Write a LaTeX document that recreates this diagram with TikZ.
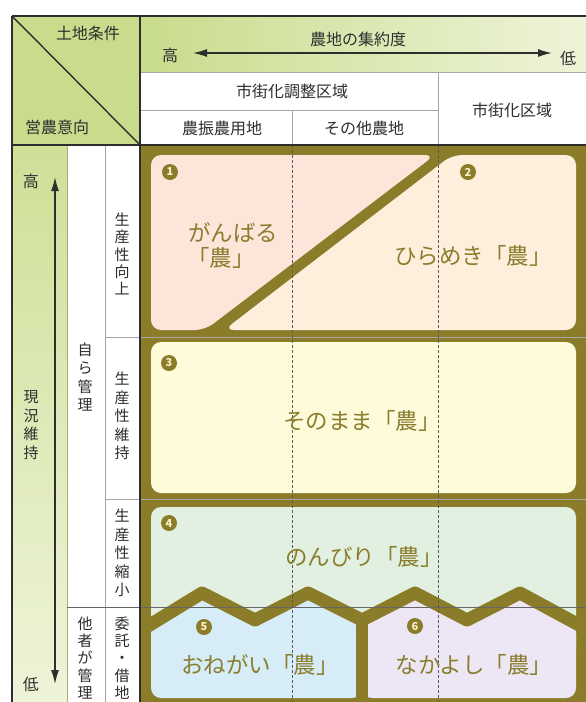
\documentclass[tikz,border=0pt]{standalone}
\usepackage{fontspec}
\setmainfont{Noto Sans CJK JP}
\usetikzlibrary{arrows.meta}
\definecolor{bandc}{HTML}{8B7C2A}
\definecolor{txtc}{HTML}{8A7E2E}
\definecolor{hdrg}{HTML}{C8DC8C}
\definecolor{hdrl}{HTML}{EEF4D8}
\definecolor{pinkc}{HTML}{FDE5DA}
\definecolor{peachc}{HTML}{FDEFDC}
\definecolor{yelc}{HTML}{FEFBDA}
\definecolor{grnc}{HTML}{E1F0E0}
\definecolor{bluec}{HTML}{D6EDF8}
\definecolor{lavc}{HTML}{EDE6F4}
\definecolor{darkc}{HTML}{2E2E2E}
\definecolor{numc}{HTML}{F6F0CC}
\tikzset{
  hdr/.style={font=\fontsize{16}{18}\selectfont, text=darkc, inner sep=0pt},
  vtxt/.style={font=\fontsize{15}{18.5}\selectfont, text=darkc, align=center, inner sep=0pt},
  vtxts/.style={font=\fontsize{15}{17.2}\selectfont, text=darkc, align=center, inner sep=0pt},
  ptxt/.style={font=\fontsize{22.5}{26}\selectfont, text=txtc, inner sep=0pt, align=center},
  numb/.style={circle, fill=bandc, minimum size=16pt, inner sep=0pt, text=numc, font=\fontsize{11}{11}\selectfont\bfseries},
  panel/.style={rounded corners=10pt},
  thinl/.style={draw=gray!70, line width=0.6pt},
  borderl/.style={draw=darkc, line width=1.8pt},
  dashl/.style={draw=black!65, line width=0.6pt, dash pattern=on 3pt off 2pt},
  arr/.style={line width=1.4pt, draw=darkc, {Latex[length=14pt,width=8pt]}-{Latex[length=14pt,width=8pt]}}
}
\begin{document}
\begin{tikzpicture}[x=1pt,y=-1pt]
\useasboundingbox (0,0) rectangle (586,702);
\fill[white] (0,0) rectangle (586,702);
% header backgrounds
\fill[hdrg] (12,16) rectangle (140,145);
\shade[left color=hdrg, right color=hdrl] (140,16) rectangle (586,72);
\fill[white] (140,72) rectangle (586,145);
% left columns
\shade[top color=hdrg!90!white, bottom color=hdrl] (12,145) rectangle (67,702);
\fill[white] (67,145) rectangle (140,702);
% main area
\fill[bandc] (140,145) rectangle (586,702);
\begin{scope}
\clip (140,145) rectangle (586,702);
% top panels 1 & 2
\fill[pinkc, panel] (151,155) -- (435,155) -- (205,330) -- (151,330) -- cycle;
\fill[peachc, panel] (452,155) -- (576,155) -- (576,330) -- (224,330) -- cycle;
% panel 3
\fill[yelc, panel] (151,342) rectangle (576,493);
% panel 4
\fill[grnc, panel] (151,507) rectangle (576,660);
% panels 5 & 6
\fill[bluec, panel] (151,624) -- (202,593) -- (255,620) -- (308,593) -- (362,620) -- (362,698) -- (151,698) -- cycle;
\fill[lavc, panel] (362,620) -- (415,593) -- (467,620) -- (520,593) -- (576,625) -- (576,698) -- (362,698) -- cycle;
% zigzag band
\draw[bandc, line width=13pt, line join=round] (135,634) -- (202,593) -- (255,620) -- (308,593) -- (362,620) -- (415,593) -- (467,620) -- (520,593) -- (592,632);
\draw[bandc, line width=12pt] (362,620) -- (362,704);
\end{scope}
% table lines
\draw[thinl] (140,72) -- (586,72);
\draw[thinl] (140,110) -- (438,110);
\draw[thinl] (292,110) -- (292,145);
\draw[thinl] (438,72) -- (438,145);
\draw[draw=hdrg!80!black, line width=0.6pt] (67,145) -- (67,702);
\draw[thinl] (105,145) -- (105,702);
\draw[thinl] (105,337) -- (586,337);
\draw[thinl] (105,499) -- (586,499);
\draw[draw=black!60, line width=0.6pt] (67,607) -- (586,607);
% dashed column lines
\draw[dashl] (292,145) -- (292,702);
\draw[dashl] (438,145) -- (438,702);
% borders
\draw[draw=darkc, line width=1.4pt] (12,16) -- (140,145);
\draw[borderl] (12,16) -- (586,16);
\draw[borderl] (12,16) -- (12,702);
\draw[borderl] (140,16) -- (140,702);
\draw[draw=darkc, line width=2.4pt] (12,145) -- (586,145);
% header texts
\node[hdr] (tochi) at (88,33) {土地条件};
\node[hdr] (einou) at (57,127) {営農意向};
\node[hdr] (shuyaku) at (358,39) {農地の集約度};
\node[hdr] (takaH) at (170,55) {高};
\node[hdr] (hikuH) at (568,58) {低};
\coordinate (aL) at (193,53);
\coordinate (aR) at (552,53);
\draw[arr] (aL) -- (aR);
\node[hdr] (chosei) at (292,91) {市街化調整区域};
\node[hdr] (shigai) at (512,110) {市街化区域};
\node[hdr] (noushin) at (222,128) {農振農用地};
\node[hdr] (sonota) at (364,128) {その他農地};
% left texts
\node[hdr] (takaV) at (31,181) {高};
\node[hdr] (hikuV) at (31,684) {低};
\coordinate (vT) at (55,177);
\coordinate (vB) at (55,684);
\draw[arr] (vB) -- (vT);
\node[vtxt] (genkyo) at (31,425) {現\\況\\維\\持};
\node[vtxt] (mizukara) at (85,377) {自\\ら\\管\\理};
\node[vtxts] (tasha) at (85,658) {他\\者\\が\\管\\理};
\node[vtxts] (koujou) at (122,254) {生\\産\\性\\向\\上};
\node[vtxt] (iji) at (122,416) {生\\産\\性\\維\\持};
\node[vtxt] (shukushou) at (122,553) {生\\産\\性\\縮\\小};
\node[vtxts] (itaku) at (122,658) {委\\託\\・\\借\\地};
% panel labels
\node[numb] (n1) at (170,172) {1};
\node[numb] (n2) at (468,172) {2};
\node[numb] (n3) at (169,363) {3};
\node[numb] (n4) at (169,523) {4};
\node[numb] (n5) at (204,627) {5};
\node[numb] (n6) at (415,626) {6};
\node[ptxt] (ganbaru) at (233,233) {がんばる};
\node[ptxt] (ganbaru2) at (221,258) {「農」};
\node[ptxt] (hirameki) at (473,256) {ひらめき「農」};
\node[ptxt] (sonomama) at (362,421) {そのまま「農」};
\node[ptxt] (nonbiri) at (364,557) {のんびり「農」};
\node[ptxt] (onegai) at (260,665) {おねがい「農」};
\node[ptxt] (nakayoshi) at (474,665) {なかよし「農」};
\end{tikzpicture}
\end{document}
